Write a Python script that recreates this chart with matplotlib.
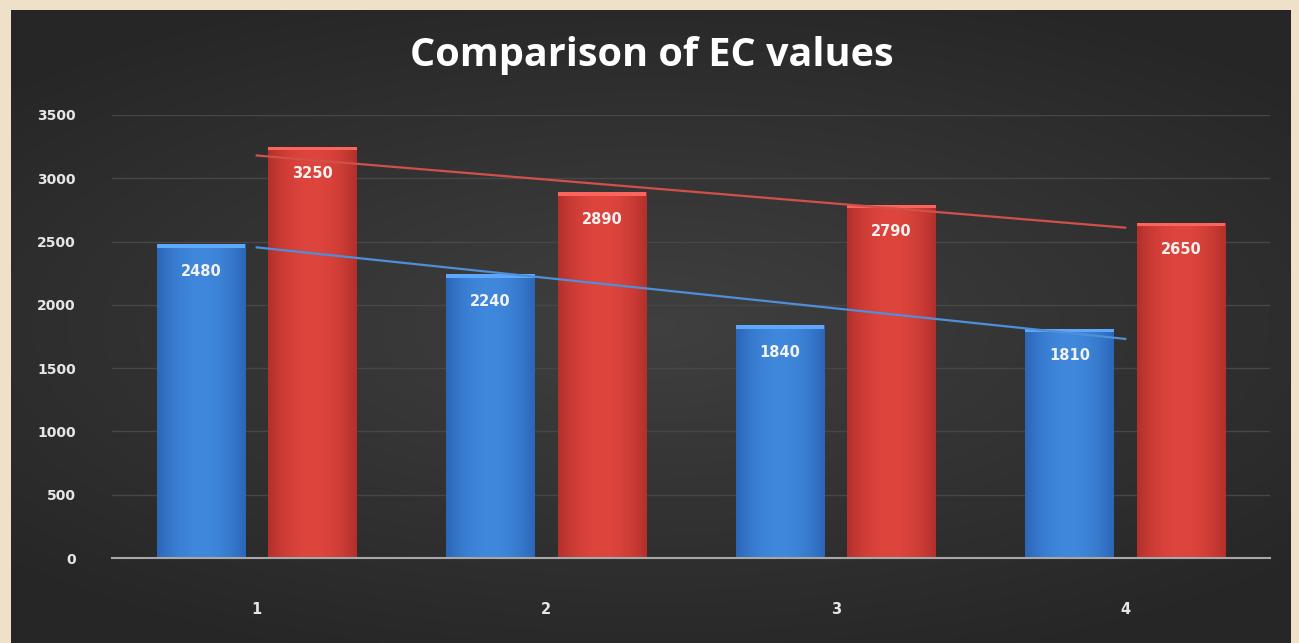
import numpy as np
import matplotlib
matplotlib.use("Agg")
import matplotlib.pyplot as plt
from matplotlib.patches import Rectangle

# data
categories = [1, 2, 3, 4]
ec_blue = [2480, 2240, 1840, 1810]
ec_red = [3250, 2890, 2790, 2650]
y_ticks = [0, 500, 1000, 1500, 2000, 2500, 3000, 3500]
title = "Comparison of EC values"

fig = plt.figure(figsize=(12.99, 6.43), dpi=100)
fig.patch.set_facecolor("#efe1c9")

# dark background panel with a soft radial glow
bg = fig.add_axes([11 / 1299, 0, 1280 / 1299, 633 / 643])
bg.set_axis_off()
yy, xx = np.mgrid[-1:1:300j, -1:1:600j]
r = np.sqrt((xx * 0.9) ** 2 + (yy * 1.1) ** 2)
shade = np.clip(0.25 - 0.08 * r, 0.15, 0.25)
bg.imshow(np.dstack([shade, shade, shade]), aspect="auto", extent=[0, 1, 0, 1])
bg.set_xlim(0, 1)
bg.set_ylim(0, 1)

ax = fig.add_axes([112 / 1299, 85 / 643, 1158 / 1299, 443 / 643])
ax.set_facecolor("none")
x = np.array(categories, dtype=float)
off = 0.193
w = 0.305


def grad_bar(ax, xc, h, dark, light):
    # draw a bar with a horizontal (cylinder-like) gradient
    t = np.linspace(-1, 1, 64)
    k = 1 - np.abs(t) ** 2
    dark = np.array(matplotlib.colors.to_rgb(dark))
    light = np.array(matplotlib.colors.to_rgb(light))
    img = dark[None, :] + (light - dark)[None, :] * k[:, None]
    img = img[None, :, :]
    im = ax.imshow(img, aspect="auto", extent=[xc - w / 2, xc + w / 2, 0, h], zorder=2)
    clip = Rectangle((xc - w / 2, 0), w, h, transform=ax.transData, facecolor="none")
    ax.add_patch(clip)
    im.set_clip_path(clip)
    # lighter top bevel
    ax.add_patch(Rectangle((xc - w / 2, h - 28), w, 28, facecolor=tuple(np.clip(light + 0.12, 0, 1)),
                           edgecolor="none", zorder=3))


for xi, v in zip(x - off, ec_blue):
    grad_bar(ax, xi, v, "#2c66b8", "#3f88dc")
for xi, v in zip(x + off, ec_red):
    grad_bar(ax, xi, v, "#b3302b", "#de453d")

# linear trend lines
for vals, col in [(ec_blue, "#4f8fd8"), (ec_red, "#d0504a")]:
    p = np.polyfit(x, vals, 1)
    ax.plot(x, np.polyval(p, x), color=col, lw=1.6, zorder=4)

# data labels
for xs, vals in [(x - off, ec_blue), (x + off, ec_red)]:
    for xi, v in zip(xs, vals):
        ax.annotate(str(v), (xi, v), xytext=(0, -27), textcoords="offset pixels",
                    ha="center", va="center", color="#f2f2f2", fontsize=10.5,
                    fontweight="bold", zorder=5)

ax.set_xlim(0.5, 4.5)
ax.set_ylim(0, 3500)
ax.set_yticks(y_ticks)
ax.set_xticks(x)
ax.set_xticklabels([str(c) for c in categories])
ax.grid(axis="y", color="#474747", lw=1, zorder=0)
ax.set_axisbelow(True)
for s in ["top", "right", "left"]:
    ax.spines[s].set_visible(False)
ax.spines["bottom"].set_color("#a8a8a8")
ax.spines["bottom"].set_linewidth(1.5)
ax.spines["bottom"].set_zorder(6)
ax.tick_params(axis="y", length=0, pad=26, labelsize=10, labelcolor="#e6e6e6")
ax.tick_params(axis="x", length=0, pad=32, labelsize=10.5, labelcolor="#e6e6e6")
for lab in ax.get_xticklabels() + ax.get_yticklabels():
    lab.set_fontweight("bold")

fig.text(0.502, 0.914, title, ha="center", va="center", color="white",
         fontsize=28.5, fontweight="bold", family="Open Sans")

fig.savefig("out.png", dpi=100, facecolor=fig.get_facecolor())
